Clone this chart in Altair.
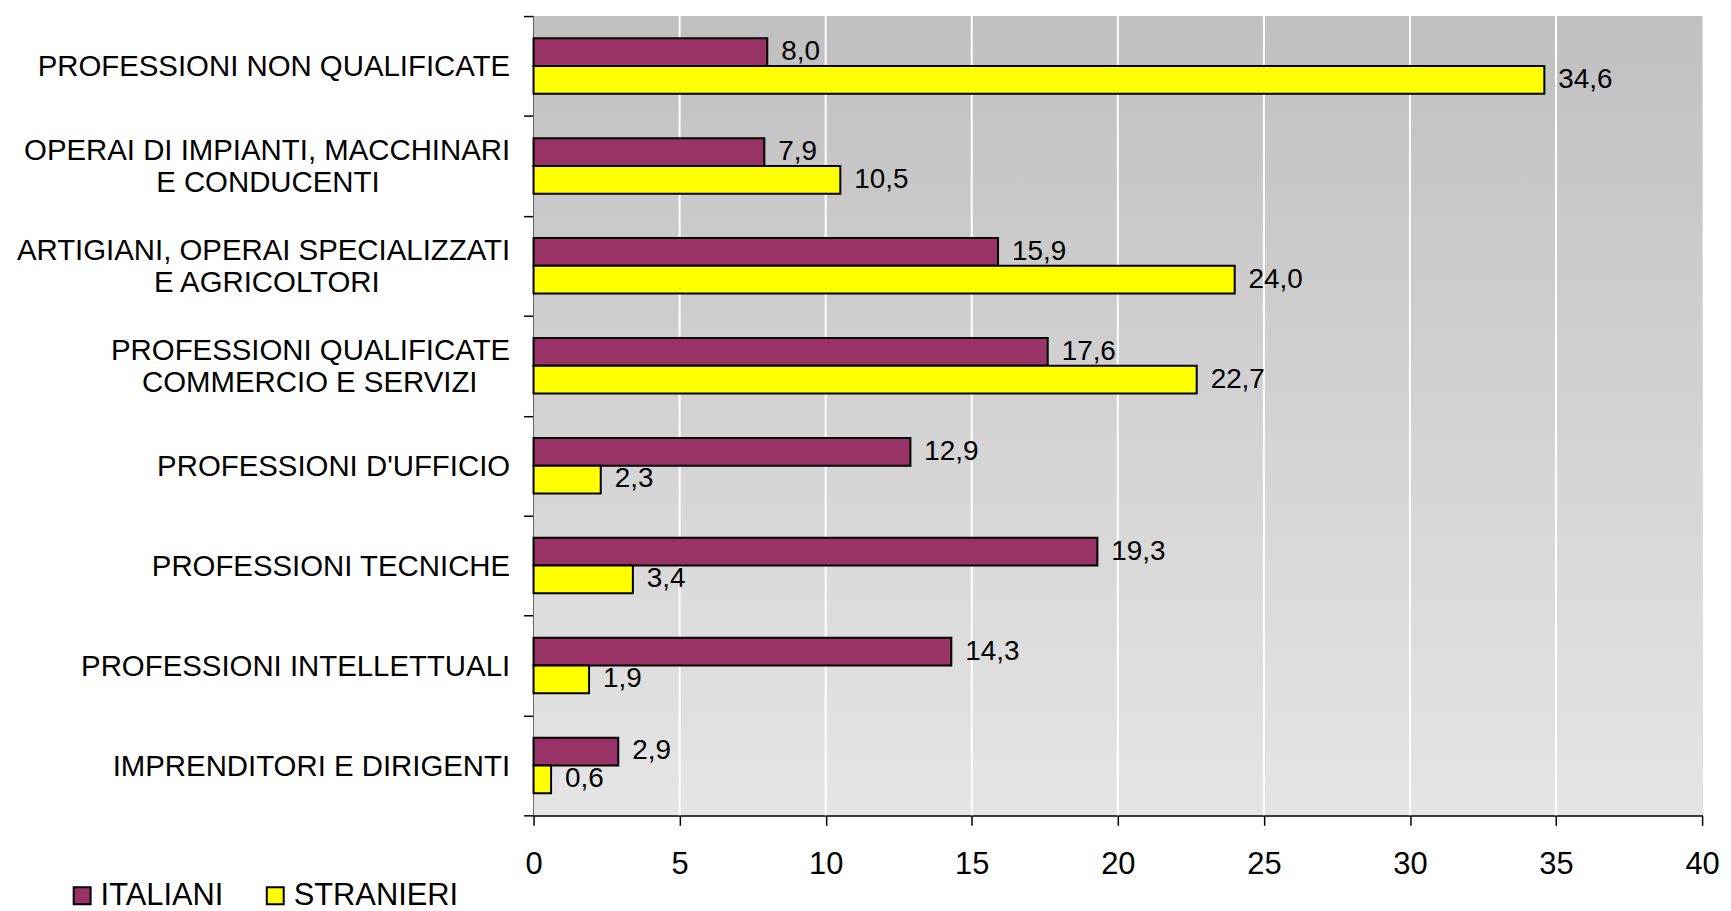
import altair as alt
import pandas as pd

NB = "\u00a0"
ZW = "\u200b"

categories = [
    "PROFESSIONI NON QUALIFICATE",
    "OPERAI DI IMPIANTI, MACCHINARI|E CONDUCENTI" + NB * 16 + ZW,
    "ARTIGIANI, OPERAI SPECIALIZZATI|E AGRICOLTORI" + NB * 16 + ZW,
    "PROFESSIONI QUALIFICATE|COMMERCIO E SERVIZI" + NB * 4 + ZW,
    "PROFESSIONI D'UFFICIO",
    "PROFESSIONI TECNICHE",
    "PROFESSIONI INTELLETTUALI",
    "IMPRENDITORI E DIRIGENTI",
]
series = ["ITALIANI", "STRANIERI"]
italiani = [8.0, 7.9, 15.9, 17.6, 12.9, 19.3, 14.3, 2.9]
stranieri = [34.6, 10.5, 24.0, 22.7, 2.3, 3.4, 1.9, 0.6]
x_ticks = [0, 5, 10, 15, 20, 25, 30, 35, 40]
grid_values = [5, 10, 15, 20, 25, 30, 35]
colors = ["#993366", "#FFFF00"]

rows = []
for c, a, b in zip(categories, italiani, stranieri):
    rows.append({"cat": c, "serie": series[0], "value": a})
    rows.append({"cat": c, "serie": series[1], "value": b})
df = pd.DataFrame(rows)

FONT = "Liberation Sans"
W, H = 1174, 803

xscale = alt.Scale(domain=[0, 40], nice=False, zero=True)
yscale = alt.Scale(paddingInner=0, paddingOuter=0)

# half-line filler so one- and two-line labels are both centred on their band
label_expr = (
    "indexof(datum.label, '|') >= 0 ? "
    f"[split(datum.label, '|')[0], '{ZW}', split(datum.label, '|')[1]] : "
    f"['{ZW}', datum.label]"
)

x_axis = alt.Axis(
    title=None,
    values=x_ticks,
    grid=False,
    labelFont=FONT,
    labelFontSize=31,
    labelColor="black",
    labelPadding=24,
    tickSize=10,
    tickColor="black",
    tickWidth=1.5,
    domainColor="black",
    domainWidth=2,
    labelFlush=False,
)
y_axis = alt.Axis(
    title=None,
    labelExpr=label_expr,
    labelFont=FONT,
    labelFontSize=29.5,
    labelLineHeight=16,
    labelColor="black",
    labelPadding=14,
    labelLimit=0,
    labelOffset=-15,
    tickBand="extent",
    tickSize=10,
    tickColor="black",
    tickWidth=1.5,
    domainColor="black",
    domainWidth=2,
    grid=False,
)

yenc = alt.Y("cat:N", sort=categories, scale=yscale, axis=y_axis)
yoff = alt.YOffset("serie:N", sort=series, scale=alt.Scale(paddingOuter=0.8, paddingInner=0))

bg = alt.Chart(pd.DataFrame({"a": [0]})).mark_rect(
    fill=alt.LinearGradient(
        gradient="linear",
        stops=[
            alt.GradientStop(color="#c0c0c0", offset=0),
            alt.GradientStop(color="#e5e5e5", offset=1),
        ],
        x1=0, x2=0, y1=0, y2=1,
    ),
).encode(x=alt.value(0), x2=alt.value("width"), y=alt.value(0), y2=alt.value("height"))

grid = alt.Chart(pd.DataFrame({"value": grid_values})).mark_rule(color="white", strokeWidth=2).encode(
    x=alt.X("value:Q", scale=xscale, axis=x_axis),
    y=alt.value(0),
    y2=alt.value("height"),
)

bars = alt.Chart(df).mark_bar(stroke="black", strokeWidth=2, opacity=1).encode(
    x=alt.X("value:Q", scale=xscale, axis=x_axis),
    y=yenc,
    yOffset=yoff,
    color=alt.Color(
        "serie:N",
        sort=series,
        scale=alt.Scale(domain=series, range=colors),
        legend=alt.Legend(
            title=None,
            orient="none",
            direction="horizontal",
            legendX=-469,
            legendY=868,
            padding=0,
            symbolType="square",
            symbolSize=289,
            symbolStrokeColor="black",
            symbolStrokeWidth=2,
            symbolOpacity=1,
            labelFont=FONT,
            labelFontSize=31,
            labelColor="black",
            labelOffset=3,
            columnPadding=36,
            labelLimit=0,
        ),
    ),
)

labels = alt.Chart(df).transform_calculate(
    lbl="replace(format(datum.value, '.1f'), '.', ',')"
).mark_text(align="left", baseline="middle", dx=14, font=FONT, fontSize=28, color="black").encode(
    x=alt.X("value:Q", scale=xscale, axis=x_axis),
    y=yenc,
    yOffset=yoff,
    text="lbl:N",
)

chart = alt.layer(bg, grid, bars, labels).properties(
    width=W,
    height=H,
    autosize=alt.AutoSizeParams(type="none"),
    padding={"left": 528, "top": 6, "right": 21, "bottom": 94},
).configure_view(stroke="#888888", strokeWidth=2).configure(background="white")

chart.save("out.html", embed_options={"renderer": "svg", "actions": False})
